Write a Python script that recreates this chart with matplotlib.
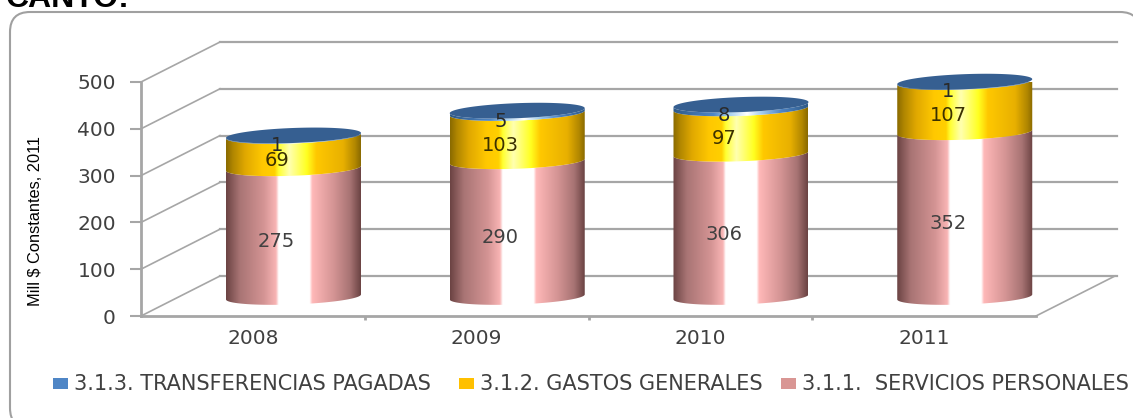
import numpy as np
import matplotlib
matplotlib.use("Agg")
import matplotlib.pyplot as plt
from matplotlib.colors import LinearSegmentedColormap
from matplotlib.patches import Polygon, FancyBboxPatch

# Data
years = ["2008", "2009", "2010", "2011"]
servicios = [275, 290, 306, 352]
gastos = [69, 103, 97, 107]
transferencias = [1, 5, 8, 1]
legend_labels = ["3.1.3. TRANSFERENCIAS PAGADAS", "3.1.2. GASTOS GENERALES", "3.1.1.  SERVICIOS PERSONALES"]

W, H = 1133, 418
GRAY = "#a6a6a6"
TXT = "#404040"

pink = LinearSegmentedColormap.from_list("pink3d", [
    (0, "#6b4343"), (0.1, "#a87474"), (0.28, "#d49494"), (0.37, "#f8b4b4"), (0.39, "#ffffff"),
    (0.62, "#ffffff"), (0.64, "#ffb8b8"), (0.8, "#d49494"), (0.92, "#a87474"), (1, "#6b4343")])
gold = LinearSegmentedColormap.from_list("gold3d", [
    (0, "#8a6a00"), (0.05, "#b08600"), (0.14, "#e0a800"), (0.27, "#ffc800"), (0.36, "#ffd000"), (0.39, "#ffff30"),
    (0.47, "#ffffb0"), (0.6, "#ffff20"), (0.67, "#ffc800"), (0.87, "#e8b000"), (0.96, "#b08600"), (1, "#8a6a00")])
blue = LinearSegmentedColormap.from_list("blue3d", [
    (0, "#2f5a88"), (0.3, "#4f86c6"), (0.42, "#a8d0f0"), (0.55, "#ffffff"), (0.65, "#a8d0f0"), (0.8, "#4f86c6"), (1, "#2f5a88")])

fig = plt.figure(figsize=(W / 100, H / 100), dpi=100)
plt.rcParams["font.family"] = "DejaVu Sans"

# Rounded frame and the cut-off heading behind everything
bg = fig.add_axes([0, 0, 1, 1])
bg.set_xlim(0, W)
bg.set_ylim(H, 0)
bg.axis("off")
bg.add_patch(FancyBboxPatch((10, 12), 1130, 416, boxstyle="round,pad=0,rounding_size=20",
                            fc="white", ec="#a0a0a0", lw=1.5))
bg.text(6, 7, "CANTO:", fontsize=23, fontweight="bold", family="Liberation Sans", color="black", va="baseline")

# Front plane of the chart is the real axes
ax = fig.add_axes([141 / W, 1 - 316 / H, 895 / W, 234 / H])
ax.patch.set_alpha(0)
ax.set_xlim(-0.5, 3.5)
ax.set_ylim(0, 500)
ax.set_yticks(range(0, 501, 100))
ax.set_xticks([0.5, 1.5, 2.5])
ax.set_xticklabels([])
for side in ["top", "right"]:
    ax.spines[side].set_visible(False)
ax.spines["left"].set_color(GRAY)
ax.spines["left"].set_linewidth(2)
ax.spines["bottom"].set_color(GRAY)
ax.spines["bottom"].set_linewidth(2)
ax.tick_params(axis="y", color=GRAY, length=8, width=1.5, labelcolor=TXT, labelsize=14.5, pad=10)
ax.tick_params(axis="x", color=GRAY, length=3, width=2)
ax.set_ylabel("Mill $ Constantes, 2011", family="Liberation Sans", fontsize=11.8, color="black")
ax.yaxis.set_label_coords((43 - 141) / 895, (316 - 221) / 234)

# depth of the box, in data units
DEPTH_X = 79 / 223.75
DEPTH_Y = 40 / 0.468

# walls: diagonals and back gridlines
for v in range(0, 501, 100):
    ax.plot([-0.5, -0.5 + DEPTH_X], [v, v + DEPTH_Y], color=GRAY, lw=1.2, clip_on=False, zorder=1)
    ax.plot([-0.5 + DEPTH_X, 3.5 + DEPTH_X + 0.01], [v + DEPTH_Y, v + DEPTH_Y], color=GRAY, lw=1.6, clip_on=False, zorder=1)
ax.plot([3.5, 3.5 + DEPTH_X], [0, DEPTH_Y], color=GRAY, lw=1.2, clip_on=False, zorder=1)

# cylinders
HALF_W = 67.5 / 223.75
ELL_H = 7.5 / 0.468
TILT = 2.5 / 0.468
t = np.linspace(0, np.pi, 80)


def arc(x0, v, front=True):
    # points of the ellipse rim, left to right
    xs = x0 - HALF_W * np.cos(t)
    sign = -1 if front else 1
    ys = v + sign * ELL_H * np.sin(t) - TILT * np.cos(t)
    return xs, ys


def segment(x0, v0, v1, cmap, z):
    xa, ya = arc(x0, v0)
    xb, yb = arc(x0, v1)
    poly = np.column_stack([np.r_[xa, xb[::-1]], np.r_[ya, yb[::-1]]])
    patch = Polygon(poly, closed=True, transform=ax.transData, fc="none", ec="none")
    ax.add_patch(patch)
    im = ax.imshow(np.linspace(0, 1, 256)[None, :], cmap=cmap, aspect="auto", zorder=z,
                   extent=[x0 - HALF_W, x0 + HALF_W, v0 - 40, v1 + 40], interpolation="bilinear")
    im.set_clip_path(patch)


for i, year in enumerate(years):
    x0 = i + DEPTH_X / 2 + 0.005
    base = DEPTH_Y / 2 - 2
    s, g, tr = servicios[i], gastos[i], transferencias[i]
    segment(x0, base, base + s, pink, 3)
    segment(x0, base + s, base + s + g, gold, 4)
    segment(x0, base + s + g, base + s + g + tr, blue, 5)
    # top of the stack
    top = base + s + g + tr
    xa, ya = arc(x0, top)
    xb, yb = arc(x0, top, front=False)
    ax.add_patch(Polygon(np.column_stack([np.r_[xa, xb[::-1]], np.r_[ya, yb[::-1]]]), closed=True,
                         fc="#365f91", ec="none", zorder=6, clip_on=False))
    # data labels
    lx = x0 - 0.075
    ax.text(lx, base + s / 2 - 19, str(s), ha="center", va="center", fontsize=14, color=TXT, zorder=8)
    ax.text(lx, base + s + g / 2 - 17, str(g), ha="center", va="center", fontsize=14, color="#3a3000", zorder=8)
    ax.text(lx, base + s + g + tr / 2 - 20, str(tr), ha="center", va="center", fontsize=14, color="#2a2a2a", zorder=8)
    # category label, centred under the front slot
    ax.text(i, -48, year, ha="center", va="center", fontsize=14.5, color=TXT)

ax.set_xlim(-0.5, 3.5)
ax.set_ylim(0, 500)

# Legend placed by hand, the real one has wide spacing
swatches = ["#4f86c6", "#ffc000", "#d99694"]
keys_x = [53, 459, 781]
for k, lab, c in zip(keys_x, legend_labels, swatches):
    bg.add_patch(plt.Rectangle((k, 378), 15, 11, fc=c, ec="none"))
    bg.text(k + 21, 384, lab, fontsize=15, color=TXT, va="center")

fig.savefig("out.png", dpi=100)
